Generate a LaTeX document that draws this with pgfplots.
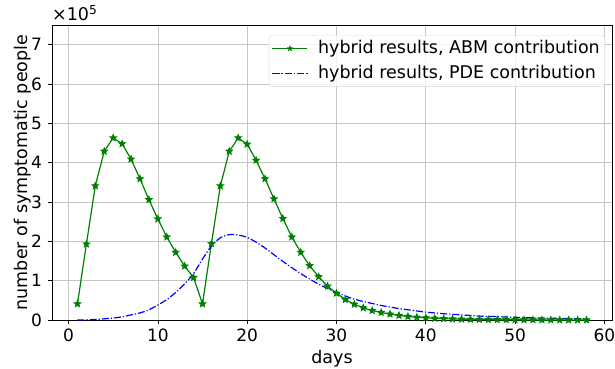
\documentclass[border=0pt]{standalone}
\usepackage{fontspec}
\setmainfont{DejaVu Sans}
\usepackage{pgfplots}
\pgfplotsset{compat=1.18}
\pgfdeclareplotmark{fstar}{%
\pgfpathmoveto{\pgfpointpolar{90}{\pgfplotmarksize}}%
\pgfpathlineto{\pgfpointpolar{126}{0.45\pgfplotmarksize}}%
\pgfpathlineto{\pgfpointpolar{162}{\pgfplotmarksize}}%
\pgfpathlineto{\pgfpointpolar{198}{0.45\pgfplotmarksize}}%
\pgfpathlineto{\pgfpointpolar{234}{\pgfplotmarksize}}%
\pgfpathlineto{\pgfpointpolar{270}{0.45\pgfplotmarksize}}%
\pgfpathlineto{\pgfpointpolar{306}{\pgfplotmarksize}}%
\pgfpathlineto{\pgfpointpolar{342}{0.45\pgfplotmarksize}}%
\pgfpathlineto{\pgfpointpolar{18}{\pgfplotmarksize}}%
\pgfpathlineto{\pgfpointpolar{54}{0.45\pgfplotmarksize}}%
\pgfpathclose\pgfusepathqfillstroke}
\definecolor{mplgreen}{HTML}{008000}
\definecolor{mplblue}{HTML}{0000FF}
\newcommand{\fs}{\fontsize{17.5}{20}\selectfont}
\newcommand{\fst}{\fontsize{17}{20}\selectfont}
\begin{document}
\fs
\begin{tikzpicture}
\useasboundingbox (0,0) rectangle (615pt,368pt);
\begin{axis}[
  name=ax,
  at={(52pt,48pt)}, anchor=south west,
  scale only axis, width=560pt, height=295pt,
  xmin=-1.85, xmax=60.85, ymin=0, ymax=7.5,
  xtick={0,10,...,60}, ytick={0,1,...,7},
  xtick pos=left, ytick pos=left,
  grid=major, major grid style={gray!45, line width=0.6pt},
  tick align=outside, major tick length=4pt,
  tick style={black, line width=0.6pt},
  axis line style={line width=0.7pt},
  /pgf/number format/assume math mode=true,
  ticklabel style={font=\fst},
  xticklabel style={yshift=1pt},
  label style={font=\fs},
  xlabel={days}, ylabel={number of symptomatic people},
  xlabel style={yshift=4pt},
  ylabel style={yshift=-12pt},
  legend style={at={(0.9875,0.965)}, anchor=north east, rounded corners=3pt,
    draw=gray!30, fill=white, fill opacity=0.8, text opacity=1,
    font=\fs, inner sep=3pt, row sep=5pt, column sep=8pt},
  legend cell align=left,
  legend image code/.code={\draw[mark repeat=2,mark phase=2,#1,mark size=1.8pt] plot coordinates {(0pt,0pt)(17.5pt,0pt)(35pt,0pt)};},
]
\addplot[mplgreen, line width=1.2pt, mark=fstar, mark size=3pt, mark options={solid, fill=mplgreen}] coordinates {
(1,0.41)(2,1.93)(3,3.41)(4,4.29)(5,4.63)(6,4.48)(7,4.09)(8,3.59)(9,3.06)(10,2.57)
(11,2.11)(12,1.72)(13,1.37)(14,1.08)(15,0.41)(16,1.94)(17,3.41)(18,4.29)(19,4.63)(20,4.47)
(21,4.06)(22,3.59)(23,3.08)(24,2.58)(25,2.11)(26,1.72)(27,1.38)(28,1.10)(29,0.86)(30,0.68)
(31,0.52)(32,0.40)(33,0.31)(34,0.24)(35,0.19)(36,0.15)(37,0.115)(38,0.09)(39,0.07)(40,0.055)
(41,0.043)(42,0.033)(43,0.026)(44,0.02)(45,0.016)(46,0.012)(47,0.01)(48,0.008)(49,0.006)(50,0.005)
(51,0.004)(52,0.003)(53,0.0025)(54,0.002)(55,0.0015)(56,0.001)(57,0.001)(58,0.001)
};
\addlegendentry{hybrid results, ABM contribution}
\addplot[mplblue, line width=1.2pt, dash pattern=on 7pt off 2pt on 1.2pt off 2pt, smooth] coordinates {
(1,0.0)(2,0.005)(3,0.015)(4,0.03)(5,0.05)(6,0.08)(7,0.13)(8,0.18)(9,0.26)(10,0.38)
(11,0.52)(12,0.70)(13,0.92)(14,1.18)(15,1.55)(16,1.88)(17,2.09)(18,2.17)(19,2.16)(20,2.10)
(21,1.98)(22,1.83)(23,1.66)(24,1.49)(25,1.33)(26,1.18)(27,1.04)(28,0.91)(29,0.80)(30,0.70)
(31,0.61)(32,0.53)(33,0.47)(34,0.42)(35,0.37)(36,0.33)(37,0.29)(38,0.26)(39,0.23)(40,0.20)
(41,0.18)(42,0.16)(43,0.145)(44,0.13)(45,0.115)(46,0.10)(47,0.09)(48,0.085)(49,0.075)(50,0.07)
(51,0.062)(52,0.055)(53,0.05)(54,0.045)(55,0.04)(56,0.037)(57,0.033)(58,0.03)
};
\addlegendentry{hybrid results, PDE contribution}
\end{axis}
\node[anchor=south west, inner sep=0pt, font=\fs] at ([yshift=4pt]ax.north west) {×10\textsuperscript{5}};
\end{tikzpicture}
\end{document}
